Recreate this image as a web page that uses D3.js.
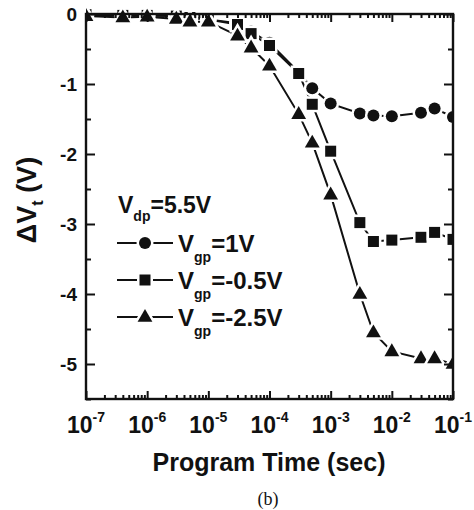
<!DOCTYPE html>
<html>
<head>
<meta charset="utf-8">
<script src="https://cdn.jsdelivr.net/npm/d3@7"></script>
<style>
  html, body { margin: 0; padding: 0; background: #fff; }
  svg { display: block; }
</style>
</head>
<body>
<svg id="chart" width="474" height="510"></svg>
<script>
// ---- data ----
const times = [1e-7, 4e-7, 1e-6, 3e-6, 5e-6, 1e-5, 3e-5, 5e-5, 1e-4, 3e-4, 5e-4, 1e-3, 3e-3, 5e-3, 1e-2, 3e-2, 5e-2, 1e-1];
const vgp1   = [-0.01, -0.02, -0.02, -0.03, -0.05, -0.08, -0.13, -0.25, -0.41, -0.83, -1.06, -1.28, -1.42, -1.45, -1.46, -1.41, -1.35, -1.47];
const vgpM05 = [-0.01, -0.02, -0.02, -0.03, -0.05, -0.08, -0.15, -0.28, -0.45, -0.85, -1.29, -1.96, -2.98, -3.25, -3.23, -3.19, -3.12, -3.22];
const vgpM25 = [-0.03, -0.05, -0.04, -0.07, -0.11, -0.11, -0.31, -0.48, -0.74, -1.43, -1.84, -2.58, -4.00, -4.55, -4.82, -4.92, -4.92, -5.00];
const seriesNames = ["=1V", "=-0.5V", "=-2.5V"];
const seriesSymbols = ["circle", "square", "triangle"];
const xTickExps = [-7, -6, -5, -4, -3, -2, -1];
const yTickValues = [0, -1, -2, -3, -4, -5];

// ---- layout ----
const svg = d3.select("#chart");
const L = 86, R = 453, T = 14, B = 399;
const x = d3.scaleLog().domain([1e-7, 1e-1]).range([L, R]);
const y = d3.scaleLinear().domain([-5.5, 0]).range([B, T]);
const FONT = "'Liberation Sans', Arial, Helvetica, sans-serif";

svg.append("defs").append("clipPath").attr("id", "plotclip")
  .append("rect").attr("x", L).attr("y", T - 8).attr("width", R - L).attr("height", B - T + 8);

function symbolPath(kind) {
  if (kind === "circle") return d3.symbol().type(d3.symbolCircle).size(Math.PI * 6 * 6)();
  if (kind === "square") return d3.symbol().type(d3.symbolSquare).size(11 * 11)();
  return d3.symbol().type(d3.symbolTriangle).size(95)();
}

const data = [vgp1, vgpM05, vgpM25];
const plot = svg.append("g").attr("clip-path", "url(#plotclip)");
const line = d3.line().x(d => x(d[0])).y(d => y(d[1]));

// draw series: lines first then markers with white halo
data.forEach((vals, i) => {
  const pts = times.map((t, j) => [t, vals[j]]);
  plot.append("path").attr("d", line(pts))
    .attr("fill", "none").attr("stroke", "#111").attr("stroke-width", 2);
});
data.forEach((vals, i) => {
  const pts = times.map((t, j) => [t, vals[j]]);
  plot.selectAll(null).data(pts).enter().append("path")
    .attr("d", symbolPath(seriesSymbols[i]))
    .attr("transform", d => `translate(${x(d[0])},${y(d[1]) + (seriesSymbols[i] === "triangle" ? 0.5 : 0)})`)
    .attr("fill", "#111").attr("stroke", "#fff").attr("stroke-width", 5)
    .style("paint-order", "stroke");
});

// ---- axes (ticks inward on all sides) ----
const minorX = [];
for (let e = -7; e < -1; e++) for (let m = 2; m <= 9; m++) minorX.push(m * Math.pow(10, e));
const majorX = xTickExps.map(e => Math.pow(10, e));

const bottomAxis = d3.axisBottom(x).tickValues(majorX).tickSize(-8).tickFormat("");
const bottomMinor = d3.axisBottom(x).tickValues(minorX).tickSize(-4).tickFormat("");
const topAxis = d3.axisTop(x).tickValues(majorX).tickSize(-8).tickFormat("");
const topMinor = d3.axisTop(x).tickValues(minorX).tickSize(-4).tickFormat("");
const yMinor = d3.range(-0.5, -5.6, -1);
const leftAxis = d3.axisLeft(y).tickValues(yTickValues).tickSize(-9).tickFormat("");
const leftMinor = d3.axisLeft(y).tickValues(yMinor).tickSize(-5).tickFormat("");
const rightAxis = d3.axisRight(y).tickValues(yTickValues).tickSize(-9).tickFormat("");
const rightMinor = d3.axisRight(y).tickValues(yMinor).tickSize(-5).tickFormat("");

[[bottomAxis, `translate(0,${B})`], [bottomMinor, `translate(0,${B})`],
 [topAxis, `translate(0,${T})`], [topMinor, `translate(0,${T})`],
 [leftAxis, `translate(${L},0)`], [leftMinor, `translate(${L},0)`],
 [rightAxis, `translate(${R},0)`], [rightMinor, `translate(${R},0)`]].forEach(([a, tr]) => {
  const g = svg.append("g").attr("transform", tr).call(a);
  g.select(".domain").remove();
  g.selectAll(".tick line").attr("stroke", "#111").attr("stroke-width", 2);
});
svg.append("rect").attr("x", L).attr("y", T).attr("width", R - L).attr("height", B - T)
  .attr("fill", "none").attr("stroke", "#111").attr("stroke-width", 2.4);

// y tick labels
svg.selectAll(null).data(yTickValues).enter().append("text")
  .attr("x", L - 9).attr("y", d => y(d)).attr("dy", "0.36em")
  .attr("text-anchor", "end").attr("font-family", FONT).attr("font-weight", "bold")
  .attr("font-size", 19).attr("fill", "#111")
  .text(d => String(d));

// x tick labels 10^e
const xl = svg.selectAll(null).data(xTickExps).enter().append("text")
  .attr("x", d => x(Math.pow(10, d))).attr("y", 433)
  .attr("text-anchor", "middle").attr("font-family", FONT).attr("font-weight", "bold")
  .attr("font-size", 23).attr("fill", "#111");
xl.append("tspan").text("10");
xl.append("tspan").attr("font-size", 14).attr("dy", -11).text(d => String(d));

// axis titles
svg.append("text").attr("x", 269).attr("y", 471).attr("text-anchor", "middle")
  .attr("font-family", FONT).attr("font-weight", "bold").attr("font-size", 25).attr("fill", "#111")
  .text("Program Time (sec)");

const yt = svg.append("text").attr("transform", "translate(36,200) rotate(-90)")
  .attr("text-anchor", "middle").attr("font-family", FONT).attr("font-weight", "bold")
  .attr("font-size", 27).attr("fill", "#111");
yt.append("tspan").text("\u0394V");
yt.append("tspan").attr("font-size", 16).attr("dy", 7).text("t");
yt.append("tspan").attr("dy", -7).text(" (V)");

// caption
svg.append("text").attr("x", 268).attr("y", 505).attr("text-anchor", "middle")
  .attr("font-family", "'Liberation Serif', 'Times New Roman', serif").attr("font-size", 18)
  .attr("fill", "#111").text("(b)");

// ---- legend ----
const lg = svg.append("g");
const vdp = lg.append("text").attr("x", 118).attr("y", 213)
  .attr("font-family", FONT).attr("font-weight", "bold").attr("font-size", 23).attr("fill", "#111");
vdp.append("tspan").text("V");
vdp.append("tspan").attr("font-size", 14).attr("dy", 8).text("dp");
vdp.append("tspan").attr("dy", -8).text("=5.5V");

const rowY = [243, 280, 317];
seriesNames.forEach((nm, i) => {
  const cy = rowY[i];
  lg.append("line").attr("x1", 117).attr("x2", 173).attr("y1", cy).attr("y2", cy)
    .attr("stroke", "#111").attr("stroke-width", 2);
  lg.append("path").attr("d", symbolPath(seriesSymbols[i]))
    .attr("transform", `translate(145,${cy + (seriesSymbols[i] === "triangle" ? 0.5 : 0)})`)
    .attr("fill", "#111").attr("stroke", "#fff").attr("stroke-width", 5).style("paint-order", "stroke");
  const t = lg.append("text").attr("x", 178).attr("y", cy + 9)
    .attr("font-family", FONT).attr("font-weight", "bold").attr("font-size", 24).attr("fill", "#111");
  t.append("tspan").text("V");
  t.append("tspan").attr("font-size", 14).attr("dy", 10).text("gp");
  t.append("tspan").attr("dy", -10).text(nm);
});
</script>
</body>
</html>
